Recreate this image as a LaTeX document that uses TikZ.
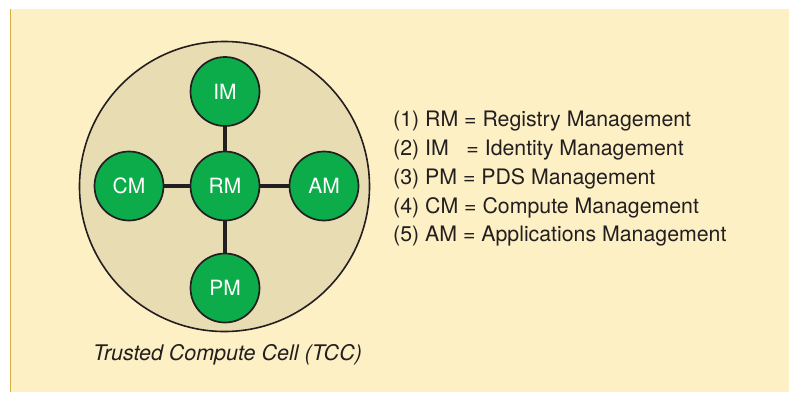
\documentclass[tikz,border=0pt]{standalone}
\usepackage{fontspec}
\setmainfont{TeX Gyre Heros}
\definecolor{panel}{HTML}{FDF0C4}
\definecolor{panelline}{HTML}{D4AE45}
\definecolor{cellfill}{HTML}{E8DCB2}
\definecolor{nodegreen}{HTML}{0CAC4A}
\definecolor{ink}{HTML}{231F20}
\begin{document}
\begin{tikzpicture}[x=1pt,y=-1pt,
  mod/.style={circle,draw=ink,line width=1.7pt,fill=nodegreen,minimum size=69pt,inner sep=0pt,text=white,font=\fontsize{21}{24}\selectfont},
  link/.style={draw=ink,line width=3.4pt},
  legend/.style={anchor=base west,inner sep=0pt,text=ink,font=\fontsize{21.3}{25}\selectfont},
]
\useasboundingbox (0,0) rectangle (789,392);
\fill[white] (0,0) rectangle (789,392);
\fill[panel] (10,8.5) rectangle (789,392);
\draw[panelline,line width=1.4pt] (10.7,8.5) -- (10.7,392);
\node[circle,draw=ink,line width=1.6pt,fill=cellfill,minimum size=290pt,inner sep=0pt] (tcc) at (224.5,186.5) {};
\node[mod] (rm) at (225,186) {RM};
\node[mod] (im) at (225,91.5) {IM};
\node[mod] (pm) at (225,288) {PM};
\node[mod] (cm) at (129,186) {CM};
\node[mod] (am) at (324,186) {AM};
\draw[link] (rm) -- (im);
\draw[link] (rm) -- (pm);
\draw[link] (rm) -- (cm);
\draw[link] (rm) -- (am);
\node[anchor=base,inner sep=0pt,text=ink,font=\fontsize{21.5}{25}\selectfont\itshape] (cap) at (227.5,360) {Trusted Compute Cell (TCC)};
\node[legend] (l1) at (393,126.7) {(1) RM = Registry Management};
\node[legend] (l2) at (393,155.3) {(2) IM\hspace{0.83em}= Identity Management};
\node[legend] (l3) at (393,184.5) {(3) PM = PDS Management};
\node[legend] (l4) at (393,213.2) {(4) CM = Compute Management};
\node[legend] (l5) at (393,241.8) {(5) AM = Applications Management};
\end{tikzpicture}
\end{document}
